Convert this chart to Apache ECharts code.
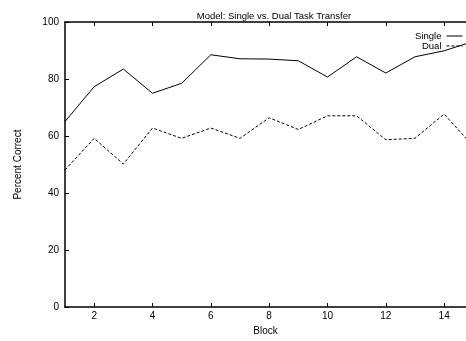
<!DOCTYPE html>
<html>
<head>
<meta charset="utf-8">
<script src="https://cdn.jsdelivr.net/npm/echarts@6/dist/echarts.min.js"></script>
<style>
  html, body { margin: 0; padding: 0; background: #fff; }
  #chart { width: 466px; height: 341px; }
</style>
</head>
<body>
<div id="chart"></div>
<script>
// values
var blocks = [1, 2, 3, 4, 5, 6, 7, 8, 9, 10, 11, 12, 13, 14, 15];
var single = [65.1, 77.3, 83.5, 75.0, 78.5, 88.5, 87.1, 87.0, 86.4, 80.7, 87.8, 82.1, 87.8, 89.9, 93.2];
var dual = [48.1, 59.2, 50.2, 62.8, 59.2, 62.8, 59.2, 66.4, 62.3, 67.1, 67.1, 58.7, 59.2, 67.7, 56.4];
var xTicks = [2, 4, 6, 8, 10, 12, 14];

var font = 'Liberation Sans, Arial, Helvetica, sans-serif';

function pairs(xs, ys) {
    return xs.map(function (x, i) { return [x, ys[i]]; });
}

var chart = echarts.init(document.getElementById('chart'));
var option = {
    animation: false,
    textStyle: { fontFamily: font, color: '#000' },
    title: {
        text: 'Model: Single vs. Dual Task Transfer',
        left: 269,
        textAlign: 'center',
        top: 6,
        textStyle: { fontSize: 9.5, fontWeight: 'normal', color: '#000', fontFamily: font }
    },
    legend: {
        orient: 'vertical',
        right: 3,
        top: 31,
        align: 'right',
        itemWidth: 16,
        itemHeight: 8,
        itemGap: 0,
        padding: 0,
        itemStyle: { opacity: 0 },
        lineStyle: { width: 1 },
        textStyle: { fontSize: 9.5, color: '#000', fontFamily: font, padding: [0, 0, 0, 0] },
        data: ['Single', 'Dual']
    },
    grid: { left: 65, right: 0, top: 22, bottom: 24 },
    xAxis: [
        {
            type: 'value',
            min: 1,
            max: 14.75,
            name: 'Block',
            nameLocation: 'middle',
            nameGap: 14,
            nameTextStyle: { fontSize: 10, color: '#000', fontFamily: font },
            axisLine: { lineStyle: { color: '#000', width: 1.5 } },
            axisTick: { inside: true, length: 4, customValues: xTicks, lineStyle: { color: '#000' } },
            axisLabel: { customValues: xTicks, fontSize: 10, color: '#000', margin: 4, fontFamily: font },
            splitLine: { show: false }
        },
        {
            type: 'value',
            position: 'top',
            min: 1,
            max: 14.75,
            axisLine: { show: true, onZero: false, lineStyle: { color: '#000', width: 1.5 } },
            axisTick: { inside: true, length: 4, customValues: xTicks, lineStyle: { color: '#000' } },
            axisLabel: { show: false },
            splitLine: { show: false }
        }
    ],
    yAxis: {
        type: 'value',
        min: 0,
        max: 100,
        interval: 20,
        name: 'Percent Correct',
        nameLocation: 'middle',
        nameRotate: 90,
        nameGap: 42,
        nameTextStyle: { fontSize: 10, color: '#000', fontFamily: font },
        axisLine: { show: true, lineStyle: { color: '#000', width: 1.5 } },
        axisTick: { show: true, inside: true, length: 4, lineStyle: { color: '#000' } },
        axisLabel: { fontSize: 10, color: '#000', margin: 6, fontFamily: font },
        splitLine: { show: false }
    },
    series: [
        {
            name: 'Single',
            type: 'line',
            data: pairs(blocks, single),
            symbol: 'none',
            lineStyle: { color: '#000', width: 1 },
            itemStyle: { color: '#000' }
        },
        {
            name: 'Dual',
            type: 'line',
            data: pairs(blocks, dual),
            symbol: 'none',
            lineStyle: { color: '#000', width: 1, type: [3, 2] },
            itemStyle: { color: '#000' }
        }
    ]
};
chart.setOption(option);
</script>
</body>
</html>
